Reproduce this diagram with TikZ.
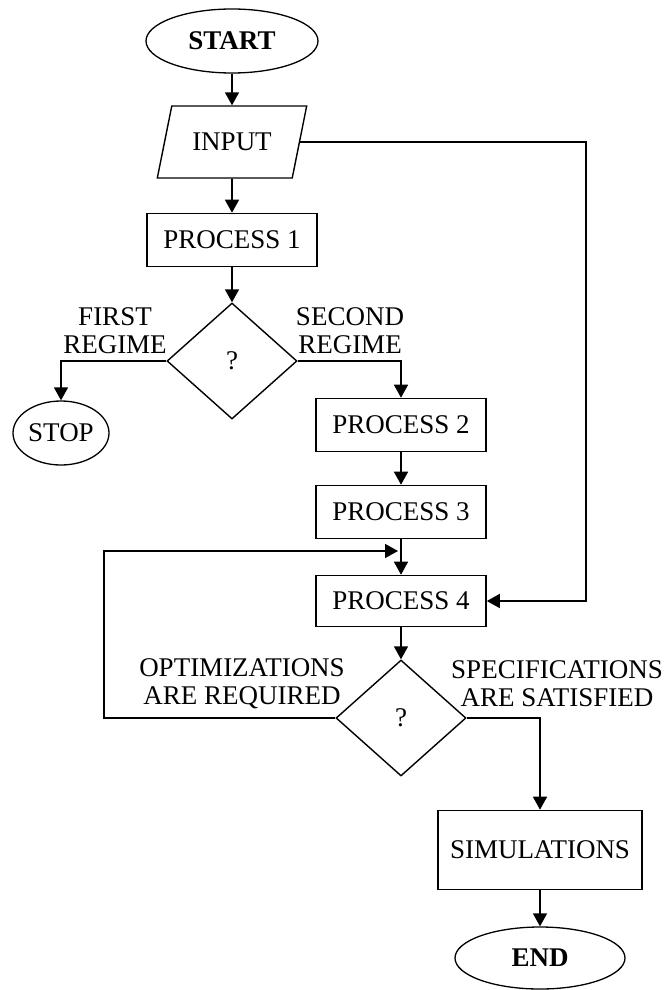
\documentclass[tikz,border=0pt]{standalone}
\usepackage{fontspec}
\setmainfont{Liberation Serif}
\usetikzlibrary{shapes.geometric,arrows.meta}

\begin{document}
\begin{tikzpicture}[x=1pt,y=-1pt,
		every node/.append style={inner sep=0pt,font=\fontsize{27}{28}\selectfont},
		box/.style={draw,line width=1.6pt,minimum width=170,minimum height=53},
		oval/.style={draw,line width=1.3pt,ellipse},
		io/.style={draw,line width=1.4pt,trapezium,trapezium left angle=62,trapezium right angle=118,
			trapezium stretches=true,minimum width=150,minimum height=72},
		decide/.style={draw,line width=1.4pt,diamond,minimum width=130,minimum height=116},
		flow/.style={line width=1.6pt,-{Triangle[width=14pt,length=13pt]}}]
		\useasboundingbox (0,0) rectangle (668,990);
		\node [oval,minimum width=172,minimum height=64] (start) at (232,41) {\bfseries START};
		\node [io] (input) at (232,142) {INPUT};
		\node [box] (p1) at (232,240) {PROCESS 1};
		\node [decide] (q1) at (232,361) {?};
		\node [oval,minimum width=96,minimum height=64] (stop) at (61,433) {STOP};
		\node [box] (p2) at (401,425) {PROCESS 2};
		\node [box] (p3) at (401,512) {PROCESS 3};
		\node [box,minimum height=51] (p4) at (401,601) {PROCESS 4};
		\node [decide] (q2) at (401,718) {?};
		\node [box,minimum width=204,minimum height=79] (sim) at (540,850) {SIMULATIONS};
		\node [oval,minimum width=170,minimum height=62] (end) at (540,958) {\bfseries END};
		\node [align=center] (first) at (115,331) {FIRST\\REGIME};
		\node [align=center] (second) at (350,331) {SECOND\\REGIME};
		\node [align=center] (optim) at (242,684) {OPTIMIZATIONS\\ARE REQUIRED};
		\node [align=center] (spec) at (557,684) {SPECIFICATIONS\\ARE SATISFIED};
		\coordinate (rside) at (586,601);
		\coordinate (back) at (104,551);
		\coordinate (merge) at (401,551);
		\draw [flow] (start) -- (input);
		\draw [flow] (input) -- (p1);
		\draw [flow] (input.east) -| (rside) -- (p4.east);
		\draw [flow] (p1) -- (q1);
		\draw [flow] (q1.west) -| (stop.north);
		\draw [flow] (q1.east) -| (p2.north);
		\draw [flow] (p2) -- (p3);
		\draw [flow] (p3) -- (p4);
		\draw [flow,shorten >=3pt] (q2.west) -| (back) -- (merge);
		\draw [flow] (p4) -- (q2);
		\draw [flow] (q2.east) -| (sim.north);
		\draw [flow] (sim) -- (end);
\end{tikzpicture}
\end{document}
